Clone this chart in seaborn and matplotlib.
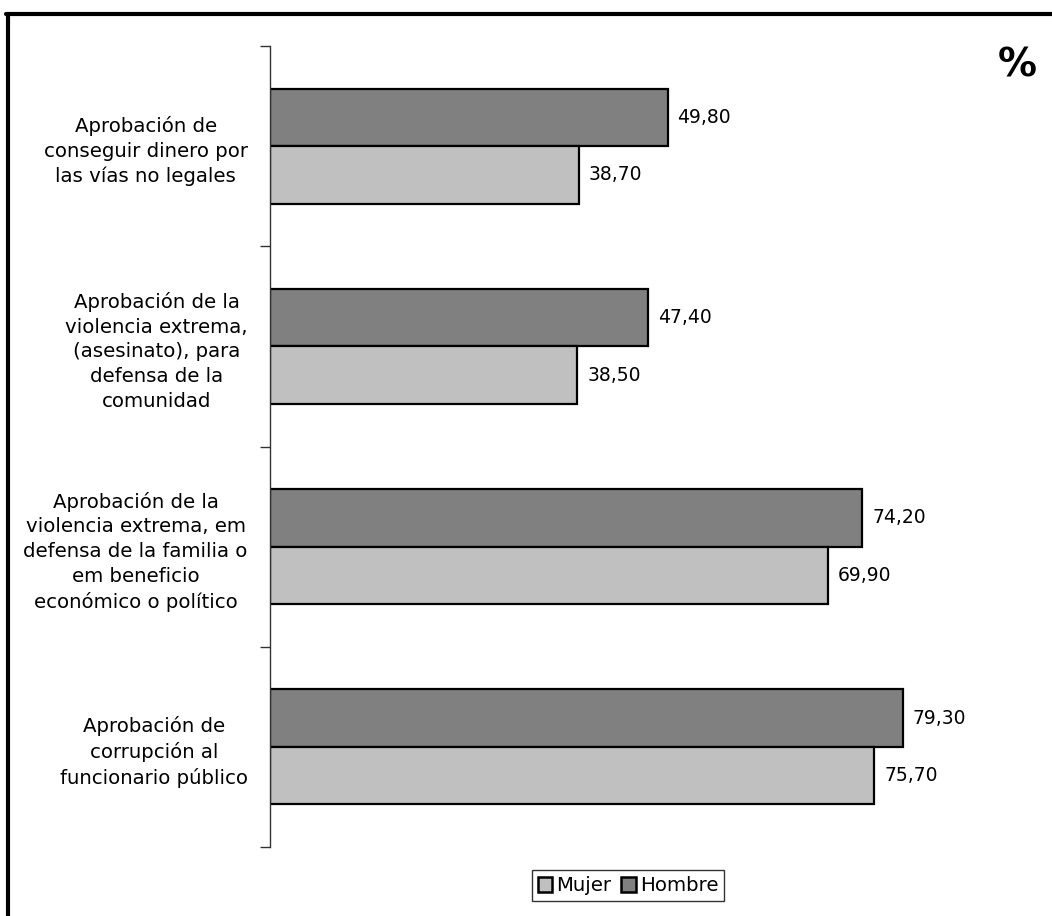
import matplotlib
matplotlib.use("Agg")
import matplotlib.pyplot as plt
from matplotlib.lines import Line2D
from matplotlib.patches import Patch
import seaborn as sns
import pandas as pd

categories = [
    "Aprobación de\nconseguir dinero por\nlas vías no legales",
    "Aprobación de la\nviolencia extrema,\n(asesinato), para\ndefensa de la\ncomunidad",
    "Aprobación de la\nviolencia extrema, em\ndefensa de la familia o\nem beneficio\neconómico o político",
    "Aprobación de\ncorrupción al\nfuncionario público",
]
hombre = [49.80, 47.40, 74.20, 79.30]
mujer = [38.70, 38.50, 69.90, 75.70]
series_names = ["Hombre", "Mujer"]
legend_order = ["Mujer", "Hombre"]
colors = {"Hombre": "#808080", "Mujer": "#c0c0c0"}

df = pd.DataFrame({
    "categoria": categories * 2,
    "serie": ["Hombre"] * 4 + ["Mujer"] * 4,
    "valor": hombre + mujer,
})

sns.set_theme(style="white")
plt.rcParams["font.family"] = ["DejaVu Sans"]
plt.rcParams["text.color"] = "black"

fig = plt.figure(figsize=(10.52, 9.16), dpi=100)
ax = fig.add_axes([0.2567, 0.0753, 0.683, 0.8745])

sns.barplot(data=df, y="categoria", x="valor", hue="serie", order=categories,
            hue_order=series_names, palette=colors, orient="h", width=0.575,
            edgecolor="black", linewidth=1.6, saturation=1, ax=ax, legend=False)

ax.set_xlim(0, 90)
ax.set_ylim(3.5, -0.5)

# value labels with comma decimal separator
for container, name in zip(ax.containers, series_names):
    vals = hombre if name == "Hombre" else mujer
    ax.bar_label(container, labels=[f"{v:.2f}".replace(".", ",") for v in vals],
                 padding=7, fontsize=13.5, color="black")

# category labels on minor ticks, boundary ticks on major ticks
ax.set_yticks([-0.5, 0.5, 1.5, 2.5, 3.5])
ax.set_yticklabels([])
ax.set_yticks(range(len(categories)), minor=True)
ax.set_yticklabels(categories, minor=True, fontsize=14.2, color="black",
                   multialignment="center", linespacing=1.38)
ax.tick_params(axis="y", which="major", left=True, length=7, width=1, color="#333333")
ax.tick_params(axis="y", which="minor", left=False, length=0, pad=16)
ax.set_xticks([])
ax.set_xlabel("")
ax.set_ylabel("")
for s in ["top", "right", "bottom"]:
    ax.spines[s].set_visible(False)
ax.spines["left"].set_color("#333333")
ax.spines["left"].set_linewidth(1)

handles = [Patch(facecolor=colors[n], edgecolor="black", linewidth=1.8) for n in legend_order]
leg = fig.legend(handles, legend_order, loc="center", bbox_to_anchor=(0.597, 0.033),
                 ncol=2, frameon=True, fancybox=False, fontsize=14.2,
                 handlelength=0.75, handleheight=0.75, handletextpad=0.2,
                 columnspacing=0.5, borderpad=0.3)
leg.get_frame().set_edgecolor("black")
leg.get_frame().set_linewidth(1)
for t in leg.get_texts():
    t.set_color("black")

fig.text(0.967, 0.928, "%", fontsize=28, fontweight="bold", color="black",
         ha="center", va="center")

# outer frame on left and top
fig.add_artist(Line2D([0.0076, 0.0076], [0, 0.9847], transform=fig.transFigure,
                      color="black", linewidth=3))
fig.add_artist(Line2D([0.0057, 1.0], [0.9847, 0.9847], transform=fig.transFigure,
                      color="black", linewidth=3))

fig.savefig("out.png", dpi=100)
